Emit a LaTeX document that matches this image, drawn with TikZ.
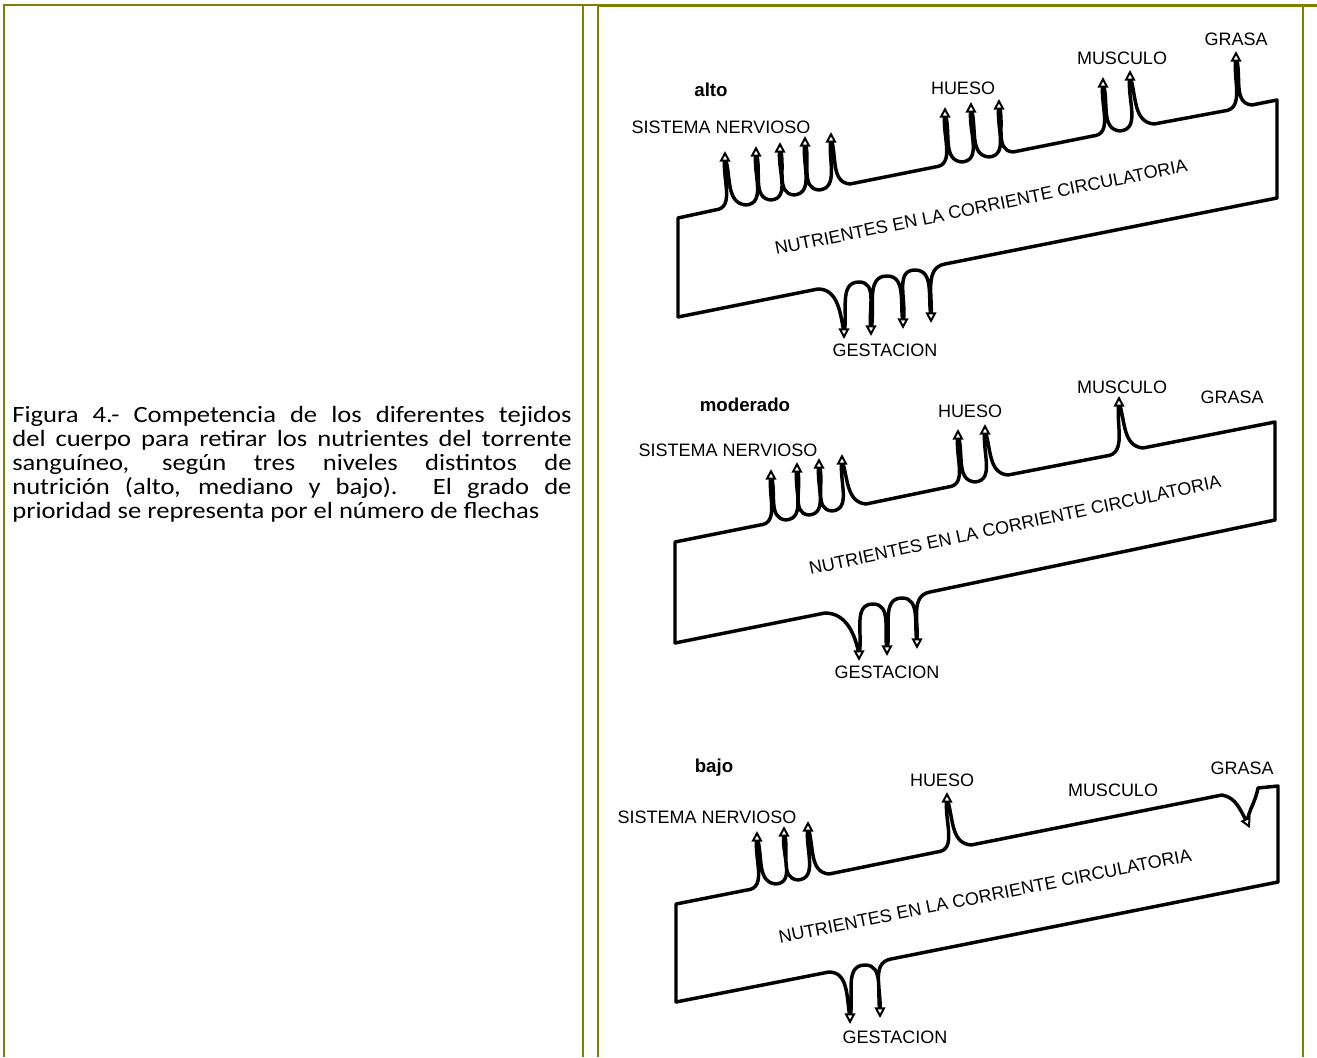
\documentclass[tikz,border=0pt]{standalone}
\usepackage{fontspec}
\setmainfont{Carlito}
\newfontfamily\labelfont{Liberation Sans}
\usetikzlibrary{arrows.meta}
\definecolor{frameolive}{RGB}{128,128,0}

\begin{document}
\begin{tikzpicture}[
  x=0.75pt, y=0.75pt,
  frame/.style={draw=frameolive, line width=1.5pt},
  band/.style={draw, line width=2.6pt, line join=round, line cap=round},
  tipup/.style={-{Triangle[fill=white, length=8pt, width=8pt]}, line width=1.5pt},
  lbl/.style={font=\labelfont\fontsize{13.5}{15}\selectfont, inner sep=1pt},
  lvl/.style={font=\labelfont\bfseries\fontsize{14}{15}\selectfont, inner sep=1pt},
  flow/.style={lbl, rotate=#1},
  caption/.style={font=\fontsize{17.5}{18}\selectfont\lineskiplimit-6pt,
                  text width=368pt, align=justify, inner sep=0pt, xscale=1.14}
]
  \useasboundingbox (0,0) rectangle (1317,-1057);

  \draw[frame] (3,-5) -- (598,-5);
  \draw[frame, line width=2.6pt] (598,-5.5) -- (1317,-5.5);
  \draw[frame] (4,-5) -- (4,-1057);
  \draw[frame] (583,-5) -- (583,-1057);
  \draw[frame] (598,-5) -- (598,-1057);
  \draw[frame] (1303,-5) -- (1303,-1057);

  \node[caption, anchor=base west] (caption) at (12,-422)
    {Figura 4.- Competencia de los diferentes tejidos\linebreak
     del cuerpo para retirar los nutrientes del torrente\linebreak
     sanguíneo, según tres niveles distintos de\linebreak
     nutrición (alto, mediano y bajo). El grado de\linebreak
     prioridad se representa por el número de flechas};

  % alto
  \draw[band] (678,-317) -- (678,-218) -- (715,-210)
    \foreach \tx/\ty/\bx/\by in {725/-157/746/-205, 756/-152/771/-200, 780/-148/794/-195,
                                 805/-142/819/-190, 831/-138/850/-184}
      { to[out=5,in=-100] (\tx,\ty) to[out=-72,in=175] (\bx,\by) }
    -- (935,-167)
    \foreach \tx/\ty/\bx/\by in {945/-113/962/-162, 971/-108/989/-157, 999/-105/1013/-152}
      { to[out=5,in=-100] (\tx,\ty) to[out=-72,in=175] (\bx,\by) }
    -- (1093,-136)
    \foreach \tx/\ty/\bx/\by in {1103/-83/1120/-131, 1130/-76/1154/-124}
      { to[out=5,in=-100] (\tx,\ty) to[out=-72,in=175] (\bx,\by) }
    -- (1224,-111)
    to[out=5,in=-100] (1236,-57) to[out=-72,in=175] (1252,-105)
    -- (1277,-100) -- (1277,-198);
  \draw[band] (678,-317) -- (818,-289)
    \foreach \tx/\ty/\bx/\by in {844/-333/859/-282, 871/-330/887/-276, 903/-323/915/-270}
      { to[out=0,in=100] (\tx,\ty) to[out=78,in=180] (\bx,\by) }
    to[out=0,in=100] (931,-317) to[out=85,in=190] (945,-264)
    -- (1277,-198);
  \foreach \x/\y in {725/-157, 756/-152, 780/-148, 805/-142, 831/-138,
                     945/-113, 971/-108, 999/-105, 1103/-83, 1130/-76, 1236/-57}
    \draw[tipup] (\x,\y) -- (\x,\y+6);
  \foreach \x/\y in {844/-333, 871/-330, 903/-323, 931/-317}
    \draw[tipup] (\x,\y) -- (\x,\y-6);

  \node[lvl] (alto) at (711,-90) {alto};
  \node[lbl] (sn1) at (721,-127) {SISTEMA NERVIOSO};
  \node[lbl] (hueso1) at (963,-88) {HUESO};
  \node[lbl] (musculo1) at (1122,-58) {MUSCULO};
  \node[lbl] (grasa1) at (1236,-39) {GRASA};
  \node[lbl] (gest1) at (885,-350) {GESTACION};
  \node[flow=11.5] (flujo1) at (981,-207) {NUTRIENTES EN LA CORRIENTE CIRCULATORIA};

  % moderado
  \draw[band] (675,-643) -- (675,-542) -- (760,-525)
    \foreach \tx/\ty/\bx/\by in {771/-475/786/-520, 797/-468/809/-515, 819/-464/832/-511,
                                 842/-460/866/-504}
      { to[out=5,in=-100] (\tx,\ty) to[out=-72,in=175] (\bx,\by) }
    -- (948,-487)
    \foreach \tx/\ty/\bx/\by in {958/-435/975/-482, 985/-430/1008/-475}
      { to[out=5,in=-100] (\tx,\ty) to[out=-72,in=175] (\bx,\by) }
    -- (1106,-456)
    to[out=5,in=-100] (1119,-402) to[out=-72,in=175] (1143,-448)
    -- (1275,-422) -- (1275,-520);
  \draw[band] (675,-643) -- (825,-613)
    \foreach \tx/\ty/\bx/\by in {859/-655/873/-604, 887/-650/902/-598}
      { to[out=0,in=100] (\tx,\ty) to[out=78,in=180] (\bx,\by) }
    to[out=0,in=100] (917,-643) to[out=85,in=190] (930,-592)
    -- (1275,-520);
  \foreach \x/\y in {771/-475, 797/-468, 819/-464, 842/-460, 958/-435, 985/-430, 1119/-402}
    \draw[tipup] (\x,\y) -- (\x,\y+6);
  \foreach \x/\y in {859/-655, 887/-650, 917/-643}
    \draw[tipup] (\x,\y) -- (\x,\y-6);

  \node[lvl] (moderado) at (745,-405) {moderado};
  \node[lbl] (sn2) at (728,-450) {SISTEMA NERVIOSO};
  \node[lbl] (hueso2) at (970,-411) {HUESO};
  \node[lbl] (musculo2) at (1122,-387) {MUSCULO};
  \node[lbl] (grasa2) at (1232,-397) {GRASA};
  \node[lbl] (gest2) at (887,-672) {GESTACION};
  \node[flow=12] (flujo2) at (1015,-525) {NUTRIENTES EN LA CORRIENTE CIRCULATORIA};

  % bajo
  \draw[band] (676,-1002) -- (676,-904) -- (747,-890)
    \foreach \tx/\ty/\bx/\by in {757/-837/776/-884, 784/-832/798/-880, 808/-827/829/-874}
      { to[out=5,in=-100] (\tx,\ty) to[out=-72,in=175] (\bx,\by) }
    -- (937,-852)
    to[out=5,in=-100] (947,-798) to[out=-72,in=175] (971,-845)
    -- (1222,-795)
    to[out=-10,in=120] (1247,-822) to[out=80,in=-100] (1258,-788)
    -- (1278,-786) -- (1278,-882);
  \draw[band] (676,-1002) -- (829,-972)
    to[out=0,in=100] (850,-1018) to[out=78,in=180] (865,-965)
    to[out=0,in=100] (880,-1012) to[out=85,in=190] (891,-959)
    -- (1278,-882);
  \foreach \x/\y in {757/-837, 784/-832, 808/-827, 947/-798}
    \draw[tipup] (\x,\y) -- (\x,\y+6);
  \foreach \x/\y in {850/-1018, 880/-1012}
    \draw[tipup] (\x,\y) -- (\x,\y-6);
  \draw[tipup] (1247,-822) -- ++(-65:7);

  \node[lvl] (bajo) at (714,-768) {bajo};
  \node[lbl] (sn3) at (707,-817) {SISTEMA NERVIOSO};
  \node[lbl] (hueso3) at (942,-780) {HUESO};
  \node[lbl] (musculo3) at (1113,-790) {MUSCULO};
  \node[lbl] (grasa3) at (1242,-768) {GRASA};
  \node[lbl] (gest3) at (895,-1037) {GESTACION};
  \node[flow=11.3] (flujo3) at (985,-896) {NUTRIENTES EN LA CORRIENTE CIRCULATORIA};
\end{tikzpicture}
\end{document}
